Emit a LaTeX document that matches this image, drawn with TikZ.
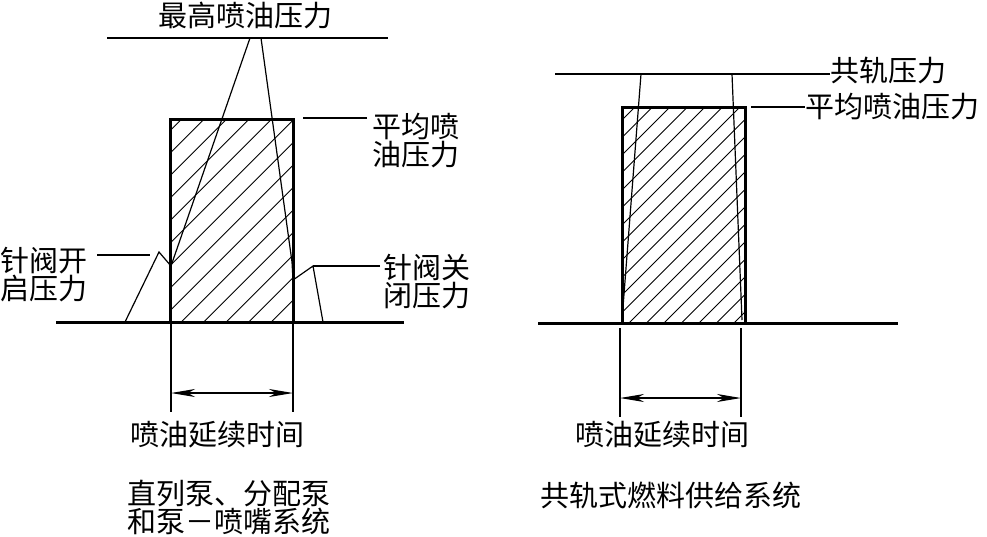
\documentclass[tikz,border=0pt]{standalone}
\usepackage{fontspec}
\newfontfamily\cjk{Noto Sans CJK SC}
\usetikzlibrary{positioning,arrows.meta}

\begin{document}
\begin{tikzpicture}[
  x=1pt, y=-1pt,
  >={Stealth[length=24pt,width=8pt,inset=7pt]},
  leader/.style={line width=1.2pt},
  outline/.style={line width=3pt},
  hatch/.style={line width=0.9pt},
  lbl/.style={font=\cjk\fontsize{29}{28}\selectfont, inner sep=0pt, align=left}
]
\useasboundingbox (0,0) rectangle (987,536);

% left: in-line pump, distributor pump, pump-nozzle
\begin{scope}
  \clip (170,119) rectangle (293,322);
  \foreach \k in {0,...,14}
    \draw[hatch] (181.7+22.5*\k,119) -- ++(-300,300);
\end{scope}
\draw[outline] (170,119) rectangle (293,322);
\draw[outline] (56,322) -- (404,322);

\node[lbl] (maxL) at (245,15) {最高喷油压力};
\coordinate (maxA) at (107,38);
\coordinate (maxB) at (388,38);
\draw[leader] (maxA) -- (maxB);

\coordinate (openPk) at (159,252);
\coordinate (closePk) at (313,266);
\draw[leader] (125,322) -- (openPk) -- (171,266) -- (250,38);
\draw[leader] (261,38) -- (292,262) -- (293,280) -- (closePk) -- (323,322);

\node[lbl, anchor=west] (avgL) at (372,141) {平均喷\\油压力};
\node[lbl, anchor=west] (openL) at (0,275) {针阀开\\启压力};
\node[lbl, anchor=west] (closeL) at (383,281.5) {针阀关\\闭压力};
\coordinate (avgLe) at (303,118);
\coordinate (openLe) at (150,255);
\draw[leader] (avgL.west |- avgLe) ++(-5,0) -- (avgLe);
\draw[leader] (openL.east |- openLe) ++(10,0) -- (openLe);
\draw[leader] (closeL.west |- closePk) ++(-3,0) -- (closePk);

\coordinate (dimL1) at (171,322);
\coordinate (dimL2) at (293,322);
\draw[leader] (dimL1) -- ++(0,90);
\draw[leader] (dimL2) -- ++(0,90);
\draw[leader,<->] (dimL1 |- 0,393) -- (dimL2 |- 0,393);
\node[lbl] (durL) at (217,435) {喷油延续时间};
\node[lbl, anchor=west] (capL) at (127,507) {直列泵、分配泵\\和泵－喷嘴系统};

% right: common rail
\begin{scope}
  \clip (622,107) rectangle (745,323);
  \foreach \k in {0,...,19}
    \draw[hatch] (635+17.5*\k,107) -- ++(-320,320);
\end{scope}
\draw[outline] (622,107) rectangle (745,323);
\draw[outline] (538,323) -- (898,323);

\node[lbl, anchor=west] (railR) at (830,70) {共轨压力};
\coordinate (railA) at (555,74);
\draw[leader] (railA) -- (railR.west |- railA);
\draw[leader] (641,74) -- (622,320);
\draw[leader] (732,74) -- (742,320);

\node[lbl, anchor=west] (avgR) at (805,107) {平均喷油压力};
\coordinate (avgRe) at (751,107);
\draw[leader] (avgRe) -- (avgR.west);

\coordinate (dimR1) at (620,328);
\coordinate (dimR2) at (741,328);
\draw[leader] (dimR1) -- ++(0,89);
\draw[leader] (dimR2) -- ++(0,89);
\draw[leader,<->] (dimR1 |- 0,398) -- (dimR2 |- 0,398);
\node[lbl] (durR) at (662,435) {喷油延续时间};
\node[lbl] (capR) at (671,495) {共轨式燃料供给系统};
\end{tikzpicture}
\end{document}
